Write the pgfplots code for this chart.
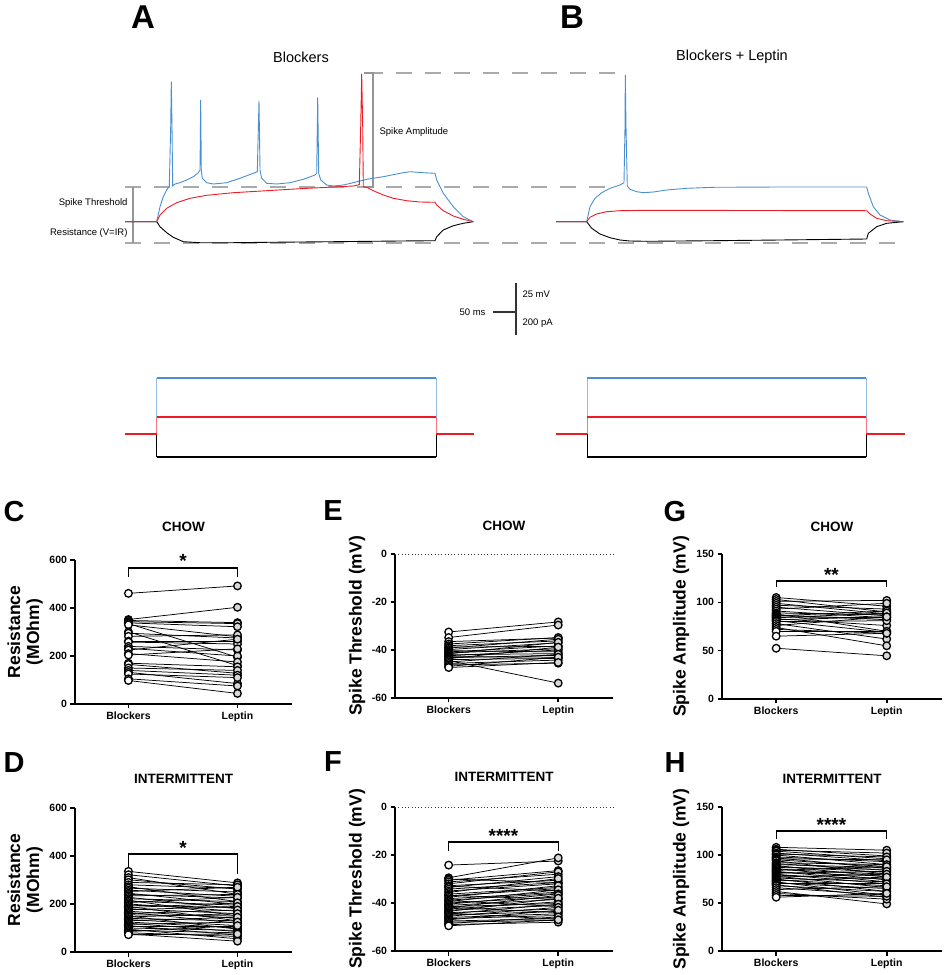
\documentclass[border=0pt]{standalone}
\usepackage{pgfplots}
\pgfplotsset{compat=1.18}
\usepackage{pgfplotstable}
\usepackage{fontspec}
\setmainfont{Liberation Sans}
\definecolor{trblue}{RGB}{74,144,208}
\definecolor{trred}{RGB}{237,28,36}
\definecolor{dgray}{RGB}{170,170,170}
\definecolor{sgray}{RGB}{150,150,150}

% C: CHOW resistance (Blockers, Leptin)
\pgfplotstableread{
B L
461 492
352 403
348 339
343 335
338 322
335 195
330 280
301 160
295 275
282 288
262 262
258 250
240 225
232 200
225 270
210 175
204 230
170 155
165 128
150 140
140 120
132 85
125 110
105 75
98 44
}\tabC
% D: INTERMITTENT resistance
\pgfplotstableread{
B L
336 288
322 275
310 240
301 262
290 280
280 265
272 210
266 250
258 232
252 270
245 198
240 225
234 240
228 180
222 210
216 150
212 195
206 228
200 170
195 185
190 130
185 205
180 160
176 190
170 140
165 120
160 175
155 150
150 95
146 160
140 130
135 110
130 145
125 100
120 85
115 125
110 70
105 105
100 90
95 55
90 80
85 110
80 65
75 45
72 75
}\tabD
% E: CHOW threshold
\pgfplotstableread{
B L
-32.5 -28.3
-34.8 -29.6
-36.5 -35
-37.5 -34.8
-38.2 -36.2
-38.8 -38.5
-39.2 -35.5
-39.8 -37
-40.3 -40.8
-40.8 -38.3
-41.2 -39.5
-41.6 -36.8
-42 -41.5
-42.4 -40
-42.8 -43
-43.2 -42.2
-43.6 -38.8
-44 -43.5
-44.4 -53.8
-45 -41.8
-45.6 -44.2
-46.2 -45.5
-46.8 -43
-47.3 -45.2
}\tabE
% F: INTERMITTENT threshold
\pgfplotstableread{
B L
-24.2 -22.5
-29.5 -21.2
-30 -31.5
-30.5 -26.5
-31.2 -28
-32 -27
-32.8 -30.5
-33 -35
-33.5 -29
-34.2 -31.5
-35 -32
-35.6 -29.8
-36.3 -33.5
-36.8 -38.5
-37 -34
-37.6 -32.8
-38.2 -35.5
-38.8 -36
-39 -41.5
-39.4 -34.5
-40 -37.5
-40.5 -36.2
-41 -38.5
-41.5 -40.2
-41.8 -44
-42 -36.8
-42.5 -39.5
-43 -41
-43.5 -38
-44 -42.5
-44.2 -46.8
-44.5 -40.5
-45 -43.5
-45.5 -41.8
-46 -44.5
-46.5 -45.2
-47 -43
-47.5 -46.5
-48 -47.2
-48.5 -45.8
-49 -48
-49.5 -47
}\tabF
% G: CHOW amplitude
\pgfplotstableread{
B L
105 96
103 90
101 102
99 88
97 93
95 86
93 99
91 84
89 87
88 70
87 82
86 91
85 84
84 89
83 76
82 85
81 69
80 81
78 62
76 85
74 55
72 68
70 70
65 68
52.5 44.7
}\tabG
% H: INTERMITTENT amplitude
\pgfplotstableread{
B L
108 105
106 99
105 102
104 96
102 94
101 98
100 90
98 93
97 86
96 95
95 88
94 80
92 90
91 84
90 87
89 77
88 82
87 85
86 74
85 80
84 88
83 72
82 78
81 83
80 70
79 75
78 66
77 80
76 72
75 62
74 68
73 77
72 58
71 65
70 70
69 56
68 62
66 58
64 67
62 49
60 54
58 57
56 60
}\tabH

\pgfplotsset{
  pairax/.style={
    scale only axis, anchor=south west,
    xmin=-0.49, xmax=1.5,
    axis lines=left,
    axis line style={-, line width=2pt},
    xtick={0,1}, xticklabels={Blockers,Leptin},
    tick align=outside, major tick length=4.5pt, minor tick num=0,
    every tick/.append style={black, line width=1.6pt},
    tick label style={font=\fontsize{10.5}{12}\selectfont\bfseries},
    ylabel style={font=\fontsize{17.5}{19}\selectfont\bfseries, align=center, anchor=center},
    title style={font=\fontsize{13.5}{15}\selectfont\bfseries, at={(axis description cs:0.5,1)}, anchor=center},
    clip=false,
  },
}
\newcommand{\pairplots}[1]{%
  \pgfplotstablegetrowsof{#1}%
  \pgfmathtruncatemacro{\lastrow}{\pgfplotsretval-1}%
  \pgfplotsforeachungrouped \i in {0,...,\lastrow}{%
    \pgfplotstablegetelem{\i}{B}\of{#1}\let\vb\pgfplotsretval
    \pgfplotstablegetelem{\i}{L}\of{#1}\let\vl\pgfplotsretval
    \edef\tmp{\noexpand\addplot[black, line width=0.75pt, forget plot] coordinates {(0,\vb) (1,\vl)};}\tmp
  }%
  \addplot[only marks, mark=*, mark size=3.8pt, mark options={draw=black, fill=white, line width=1.3pt}] table[x expr=0, y=B] {#1};
  \addplot[only marks, mark=*, mark size=3.8pt, mark options={draw=black, fill=gray!30, line width=1.3pt}] table[x expr=1, y=L] {#1};
}
\newcommand{\bracket}[3]{% low, high, stars
  \draw[black, line width=1.3pt] (axis cs:0,#1) -- (axis cs:0,#2) -- (axis cs:1,#2) -- (axis cs:1,#1);
  \node[anchor=base, inner sep=0pt, font=\fontsize{19}{20}\selectfont\bfseries] at (axis cs:0.5,#2) {#3};
}

\begin{document}
\begin{tikzpicture}
\useasboundingbox (0,0) rectangle (944pt,975pt);
\begin{axis}[at={(0pt,0pt)}, anchor=south west, scale only axis, width=944pt, height=975pt,
  xmin=0, xmax=944, ymin=0, ymax=975, y dir=reverse, hide axis, clip=false]
% dashed guide lines
\addplot[dgray, line width=1.5pt, dash pattern=on 16pt off 13pt] coordinates {(367,73) (615,73)};
\addplot[dgray, line width=1.5pt, dash pattern=on 16pt off 13pt] coordinates {(125,187) (615,187)};
\addplot[dgray, line width=1.5pt, dash pattern=on 16pt off 13pt] coordinates {(125,243) (905,243)};
% brackets
\addplot[sgray, line width=1.2pt] coordinates {(133,187) (133,243)};
\addplot[sgray, line width=1.2pt] coordinates {(364,73) (373,73) (373,187) (364,187)};
% Panel A traces
\addplot[black, line width=0.9pt] coordinates {(125,221.7) (156.7,221.7) (160,226.7) (166.7,232.7) (173.3,237.3) (183.3,241.7) (200,242.7) (233.3,242.7) (266.7,242.3) (333.3,241.7) (400,241) (435,240.7) (436.7,236.7) (443.3,230) (453.3,225.7) (463.3,223.3) (473.3,221.7)};
\addplot[trblue, line width=0.9pt] coordinates {(125,221.7) (156.7,221.7) (160,206.7) (163.3,196.7) (166.7,190) (169.3,186) (170.7,126.7) (171.3,81.7) (172,126.7) (172.7,186) (175,184) (180,182.7) (186.7,180) (193.3,176.7) (198.3,172.7) (200,170) (200.7,100) (201.3,170) (202.3,178.3) (206.7,182.7) (213.3,184) (226.7,182.7) (240,178.3) (253.3,173.3) (257.3,171.7) (259,100.7) (260,170) (261.7,178.3) (266.7,183.3) (276.7,184) (290,182.7) (303.3,179.3) (315,175) (316.7,173.3) (317.7,97.3) (318.7,173.3) (320.7,180) (326.7,185) (333.3,186) (343.3,185) (353.3,182.7) (366.7,179.3) (383.3,176.7) (400,173.3) (410,171.7) (423.3,172.7) (435,173.3) (436.7,180) (443.3,193.3) (453.3,206.7) (463.3,216.7) (473.3,221.7)};
\addplot[trred, line width=0.9pt] coordinates {(125,221.7) (156.7,221.7) (160,215) (166.7,208.3) (176.7,202.7) (190,198.3) (206.7,195.3) (233.3,192.7) (266.7,190.7) (300,188.7) (333.3,187) (353.3,186) (359.3,184.7) (360.7,126.7) (361.7,74) (362.7,126.7) (363.3,186.7) (366.7,187.3) (373.3,190.7) (383.3,195) (393.3,198.3) (406.7,200.7) (420,202) (435,202.3) (436.7,205) (443.3,210.7) (453.3,216) (463.3,219.3) (473.3,221.7)};
% Panel B traces
\addplot[black, line width=0.9pt] coordinates {(556,221.7) (586.7,221.7) (591.7,228.3) (600,234) (610,237.7) (620,240) (630,241) (646.7,241.3) (713.3,240.7) (780,240) (866.7,239) (868.3,233.3) (876.7,226.7) (886.7,223.3) (903.3,221.7)};
\addplot[trblue, line width=0.9pt] coordinates {(556,221.7) (586.7,221.7) (590,206.7) (595,198.3) (601.7,192.7) (610,188.3) (620,185) (624,182.7) (625,126.7) (625.3,75) (626,126.7) (627.3,186) (630,189.3) (636.7,191.7) (643.3,192.7) (653.3,192) (666.7,190) (686.7,188.3) (713.3,187.3) (780,187) (866.7,187) (868.3,193.3) (873.3,206.7) (880,215) (890,220) (903.3,221.7)};
\addplot[trred, line width=0.9pt] coordinates {(556,221.7) (586.7,221.7) (590,217.3) (596.7,214) (606.7,211.7) (620,210.7) (646.7,210.3) (866.7,210.7) (870,214) (876.7,218.3) (886.7,220.7) (903.3,221.7)};
% current steps: vertical edges (thin) then levels (thick)
\addplot[black, line width=0.6pt] coordinates {(156.7,434) (156.7,457)};
\addplot[black, line width=0.6pt] coordinates {(436,434) (436,457)};
\addplot[trblue!60, line width=0.6pt] coordinates {(156.7,417) (156.7,378)};
\addplot[trblue!60, line width=0.6pt] coordinates {(436,417) (436,378)};
\addplot[trred!60, line width=0.6pt] coordinates {(156.7,434) (156.7,417)};
\addplot[trred!60, line width=0.6pt] coordinates {(436,434) (436,417)};
\addplot[black, line width=0.6pt] coordinates {(587,434) (587,457)};
\addplot[black, line width=0.6pt] coordinates {(866,434) (866,457)};
\addplot[trblue!60, line width=0.6pt] coordinates {(587,417) (587,378)};
\addplot[trblue!60, line width=0.6pt] coordinates {(866,417) (866,378)};
\addplot[trred!60, line width=0.6pt] coordinates {(587,434) (587,417)};
\addplot[trred!60, line width=0.6pt] coordinates {(866,434) (866,417)};
\addplot[black, line width=1.6pt] coordinates {(156.7,457) (436,457)};
\addplot[trblue, line width=1.6pt] coordinates {(156.7,378) (436,378)};
\addplot[trred, line width=1.4pt] coordinates {(156.7,417) (436,417)};
\addplot[trred, line width=1.4pt] coordinates {(125,434) (156.7,434)};
\addplot[trred, line width=1.4pt] coordinates {(436,434) (474,434)};
\addplot[black, line width=1.6pt] coordinates {(587,457) (866,457)};
\addplot[trblue, line width=1.6pt] coordinates {(587,378) (866,378)};
\addplot[trred, line width=1.4pt] coordinates {(587,417) (866,417)};
\addplot[trred, line width=1.4pt] coordinates {(556,434) (587,434)};
\addplot[trred, line width=1.4pt] coordinates {(866,434) (905,434)};
% scale bar
\addplot[black!80, line width=1.5pt] coordinates {(516,283) (516,335)};
\addplot[black!80, line width=1.5pt] coordinates {(493,312) (516,312)};
% texts
\node[font=\fontsize{9.5}{11}\selectfont, anchor=east] at (axis cs:489,312) {50 ms};
\node[font=\fontsize{9.5}{11}\selectfont, anchor=west] at (axis cs:519,294) {25 mV};
\node[font=\fontsize{9.5}{11}\selectfont, anchor=west] at (axis cs:519,323) {200 pA};
\node[font=\fontsize{9.5}{11}\selectfont, anchor=west] at (axis cs:376,132) {Spike Amplitude};
\node[font=\fontsize{9.5}{11}\selectfont, anchor=east] at (axis cs:131,203) {Spike Threshold};
\node[font=\fontsize{9.5}{11}\selectfont, anchor=east] at (axis cs:131,233) {Resistance (V=IR)};
\node[font=\fontsize{14.5}{16}\selectfont] at (axis cs:301,57) {Blockers};
\node[font=\fontsize{14.5}{16}\selectfont] at (axis cs:732,57) {Blockers + Leptin};
\node[font=\fontsize{33}{34}\selectfont\bfseries] at (axis cs:143,17) {A};
\node[font=\fontsize{33}{34}\selectfont\bfseries] at (axis cs:572,17) {B};
\node[font=\fontsize{29}{30}\selectfont\bfseries] at (axis cs:14,512) {C};
\node[font=\fontsize{29}{30}\selectfont\bfseries] at (axis cs:14,763) {D};
\node[font=\fontsize{29}{30}\selectfont\bfseries] at (axis cs:333,511) {E};
\node[font=\fontsize{29}{30}\selectfont\bfseries] at (axis cs:333,762) {F};
\node[font=\fontsize{29}{30}\selectfont\bfseries] at (axis cs:675,512) {G};
\node[font=\fontsize{29}{30}\selectfont\bfseries] at (axis cs:675,763) {H};
\end{axis}

% C
\begin{axis}[pairax, at={(75pt,271pt)}, width=217pt, height=144pt, ymin=0, ymax=600,
  ytick={0,200,400,600}, yticklabels={0,200,400,600},
  ylabel={Resistance\\(MOhm)}, ylabel style={at={(axis description cs:-0.23,0.5)}},
  title={CHOW}, title style={yshift=27pt}]
\pairplots{\tabC}
\bracket{530}{567}{*}
\end{axis}
% D
\begin{axis}[pairax, at={(75pt,23pt)}, width=217pt, height=144pt, ymin=0, ymax=600,
  ytick={0,200,400,600}, yticklabels={0,200,400,600},
  ylabel={Resistance\\(MOhm)}, ylabel style={at={(axis description cs:-0.23,0.5)}},
  title={INTERMITTENT}, title style={yshift=23pt}]
\pairplots{\tabD}
\bracket{325}{408}{*}
\end{axis}
% E
\begin{axis}[pairax, at={(395pt,277pt)}, width=218pt, height=144pt, ymin=-60, ymax=0,
  ytick={-60,-40,-20,0}, yticklabels={-60,-40,-20,0},
  ylabel={Spike Threshold (mV)}, ylabel style={at={(axis description cs:-0.174,0.5)}},
  title={CHOW}, title style={yshift=22pt}]
\draw[black!80, line width=1pt, dash pattern=on 1pt off 2.3pt] (rel axis cs:0,1) -- (rel axis cs:1,1);
\pairplots{\tabE}
\end{axis}
% F
\begin{axis}[pairax, at={(395pt,24pt)}, width=218pt, height=144pt, ymin=-60, ymax=0,
  ytick={-60,-40,-20,0}, yticklabels={-60,-40,-20,0},
  ylabel={Spike Threshold (mV)}, ylabel style={at={(axis description cs:-0.174,0.5)}},
  title={INTERMITTENT}, title style={yshift=24pt}]
\draw[black!80, line width=1pt, dash pattern=on 1pt off 2.3pt] (rel axis cs:0,1) -- (rel axis cs:1,1);
\pairplots{\tabF}
\bracket{-18.3}{-14.6}{****}
\end{axis}
% G
\begin{axis}[pairax, at={(722pt,276pt)}, width=220pt, height=145pt, ymin=0, ymax=150,
  ytick={0,50,100,150}, yticklabels={0,50,100,150},
  ylabel={Spike Amplitude (mV)}, ylabel style={at={(axis description cs:-0.186,0.5)}},
  title={CHOW}, title style={yshift=21pt}]
\pairplots{\tabG}
\bracket{116}{122}{**}
\end{axis}
% H
\begin{axis}[pairax, at={(722pt,24pt)}, width=220pt, height=144pt, ymin=0, ymax=150,
  ytick={0,50,100,150}, yticklabels={0,50,100,150},
  ylabel={Spike Amplitude (mV)}, ylabel style={at={(axis description cs:-0.186,0.5)}},
  title={INTERMITTENT}, title style={yshift=22pt}]
\pairplots{\tabH}
\bracket{117}{125}{****}
\end{axis}
\end{tikzpicture}
\end{document}
